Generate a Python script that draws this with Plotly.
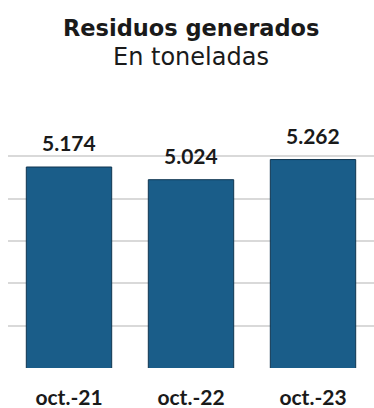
import plotly.graph_objects as go

# Residuos generados (toneladas), octubre de cada año
periodos = ["oct.-21", "oct.-22", "oct.-23"]
toneladas = [5174, 5024, 5262]
etiquetas = ["5.174", "5.024", "5.262"]

BAR_COLOR = "#1a5d89"
BAR_LINE = "#0f3550"
TEXT_COLOR = "#1a1a1a"
FONT = "Lato"
TITLE_FONT = "DejaVu Sans"

fig = go.Figure()
fig.add_trace(go.Bar(
    x=periodos,
    y=toneladas,
    marker=dict(color=BAR_COLOR, line=dict(color=BAR_LINE, width=1)),
    hoverinfo="skip",
))

for p, v, t in zip(periodos, toneladas, etiquetas):
    fig.add_annotation(
        x=p, y=v, text=f"<b>{t}</b>", showarrow=False,
        yanchor="bottom", yshift=10,
        font=dict(family=FONT, size=21, color=TEXT_COLOR),
    )

fig.add_annotation(
    xref="paper", yref="paper", x=0.5, y=1 + (114 - 28.5) / 254,
    text="<b>Residuos generados</b>", showarrow=False, yanchor="middle",
    font=dict(family=TITLE_FONT, size=22.5, color=TEXT_COLOR),
)
fig.add_annotation(
    xref="paper", yref="paper", x=0.5, y=1 + (114 - 57.5) / 254,
    text="En toneladas", showarrow=False, yanchor="middle",
    font=dict(family=TITLE_FONT, size=24, color=TEXT_COLOR),
)

fig.update_layout(
    width=374, height=408,
    margin=dict(l=8, r=0, t=114, b=40),
    paper_bgcolor="white", plot_bgcolor="white",
    showlegend=False,
    bargap=0.3,
    font=dict(family=FONT, color=TEXT_COLOR),
)
fig.update_xaxes(
    showgrid=False, showline=False, ticks="",
    tickfont=dict(family=FONT, size=21, color=TEXT_COLOR),
    ticklabelstandoff=15,
)
fig.update_xaxes(tickvals=periodos, ticktext=[f"<b>{p}</b>" for p in periodos])
fig.update_yaxes(
    range=[2800, 5800], tick0=2800, dtick=500,
    showgrid=True, gridcolor="#d9d9d9", gridwidth=1.5,
    showticklabels=False, zeroline=False, showline=False,
)

fig.write_html("out.html")
